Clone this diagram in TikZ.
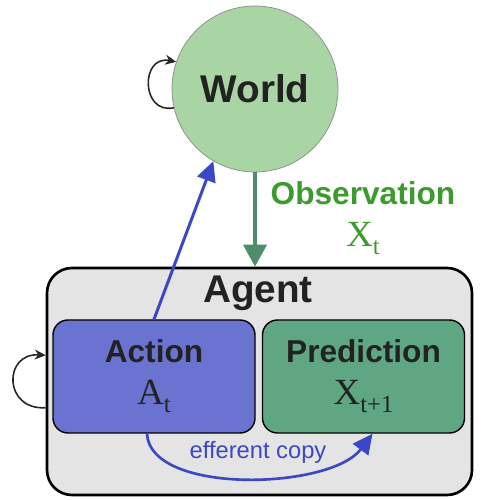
\documentclass[tikz,border=0pt]{standalone}
\usepackage[no-math]{fontspec}
\setsansfont{Liberation Sans}
\newfontfamily\symfont{Liberation Serif}
\usetikzlibrary{arrows.meta}

\definecolor{worldgreen}{HTML}{A9D4A4}
\definecolor{worldedge}{HTML}{8A8A8A}
\definecolor{agentgray}{HTML}{E4E4E4}
\definecolor{actfill}{HTML}{6A73CF}
\definecolor{predfill}{HTML}{5FA782}
\definecolor{actblue}{HTML}{3B47C4}
\definecolor{obsgreen}{HTML}{4E8C6C}
\definecolor{obstext}{HTML}{3C9B2E}
\definecolor{darktext}{HTML}{222222}

% serif symbol with a lowered index
\newcommand{\symsub}[2]{{\symfont\mdseries\fontsize{21}{22}\selectfont #1\raisebox{-4.5pt}{\fontsize{14}{14}\selectfont #2}}}

\tikzset{
    innerbox/.style={draw=black, line width=0.8pt, rounded corners=0.3cm,
        minimum width=4.04cm, minimum height=2.26cm, align=center,
        text=darktext, font=\sffamily\bfseries\fontsize{18}{24}\selectfont},
    actarrow/.style={draw=actblue, line width=1.7pt, -{Triangle[length=0.4cm, width=0.38cm]}},
    obsarrow/.style={draw=obsgreen, line width=2.2pt, -{Triangle[length=0.44cm, width=0.46cm]}},
    selfloop/.style={draw=black!85, line width=0.9pt, -{Stealth[length=0.22cm, width=0.2cm]}}
}

\begin{document}
\begin{tikzpicture}[every node/.style={font=\sffamily}]

    \useasboundingbox (0,0) rectangle (10,10);

    % 1. World
    \node[circle, draw=worldedge, fill=worldgreen, minimum size=3.32cm, inner sep=0pt,
        text=darktext, font=\sffamily\bfseries\fontsize{22}{26}\selectfont] (world) at (5.10, 8.22) {World};
    \draw[selfloop] (world.193) .. controls +(-0.66,-0.14) and +(-0.72,0.14) .. (world.161);

    % 2. Agent
    \node[draw=black, line width=1.5pt, fill=agentgray, rounded corners=0.5cm,
        minimum width=8.5cm, minimum height=4.54cm] (agent) at (5.19, 2.37) {};
    \node[text=darktext, font=\sffamily\bfseries\fontsize{22}{26}\selectfont] (agentlabel) at (5.16, 4.14) {Agent};
    \draw[selfloop] (agent.187) .. controls +(-0.85,-0.05) and +(-0.85,0.05) .. (agent.173);

    % Action / Prediction
    \node[innerbox, fill=actfill] (action) at (3.08, 2.47) {Action\\\symsub{A}{t}};
    \node[innerbox, fill=predfill] (prediction) at (7.27, 2.47) {Prediction\\\symsub{X}{t+1}};

    % 3. Observation
    \draw[obsarrow] (world.south) -- (world.south |- agent.north);
    \node[align=center, text=obstext, font=\sffamily\bfseries\fontsize{18}{24}\selectfont] (obslabel) at (7.26, 5.64) {Observation\\\symsub{X}{t}};

    % 4. action to world, efferent copy
    \draw[actarrow] (action.north) -- (world.240);
    \draw[actarrow, line width=1.5pt] (action.263) .. controls (3.0, 0.1) and (6.6, 0.2) .. (prediction.279);
    \node[text=actblue, font=\sffamily\fontsize{13.5}{16}\selectfont] (efflabel) at (5.16, 0.96) {efferent copy};

\end{tikzpicture}
\end{document}
